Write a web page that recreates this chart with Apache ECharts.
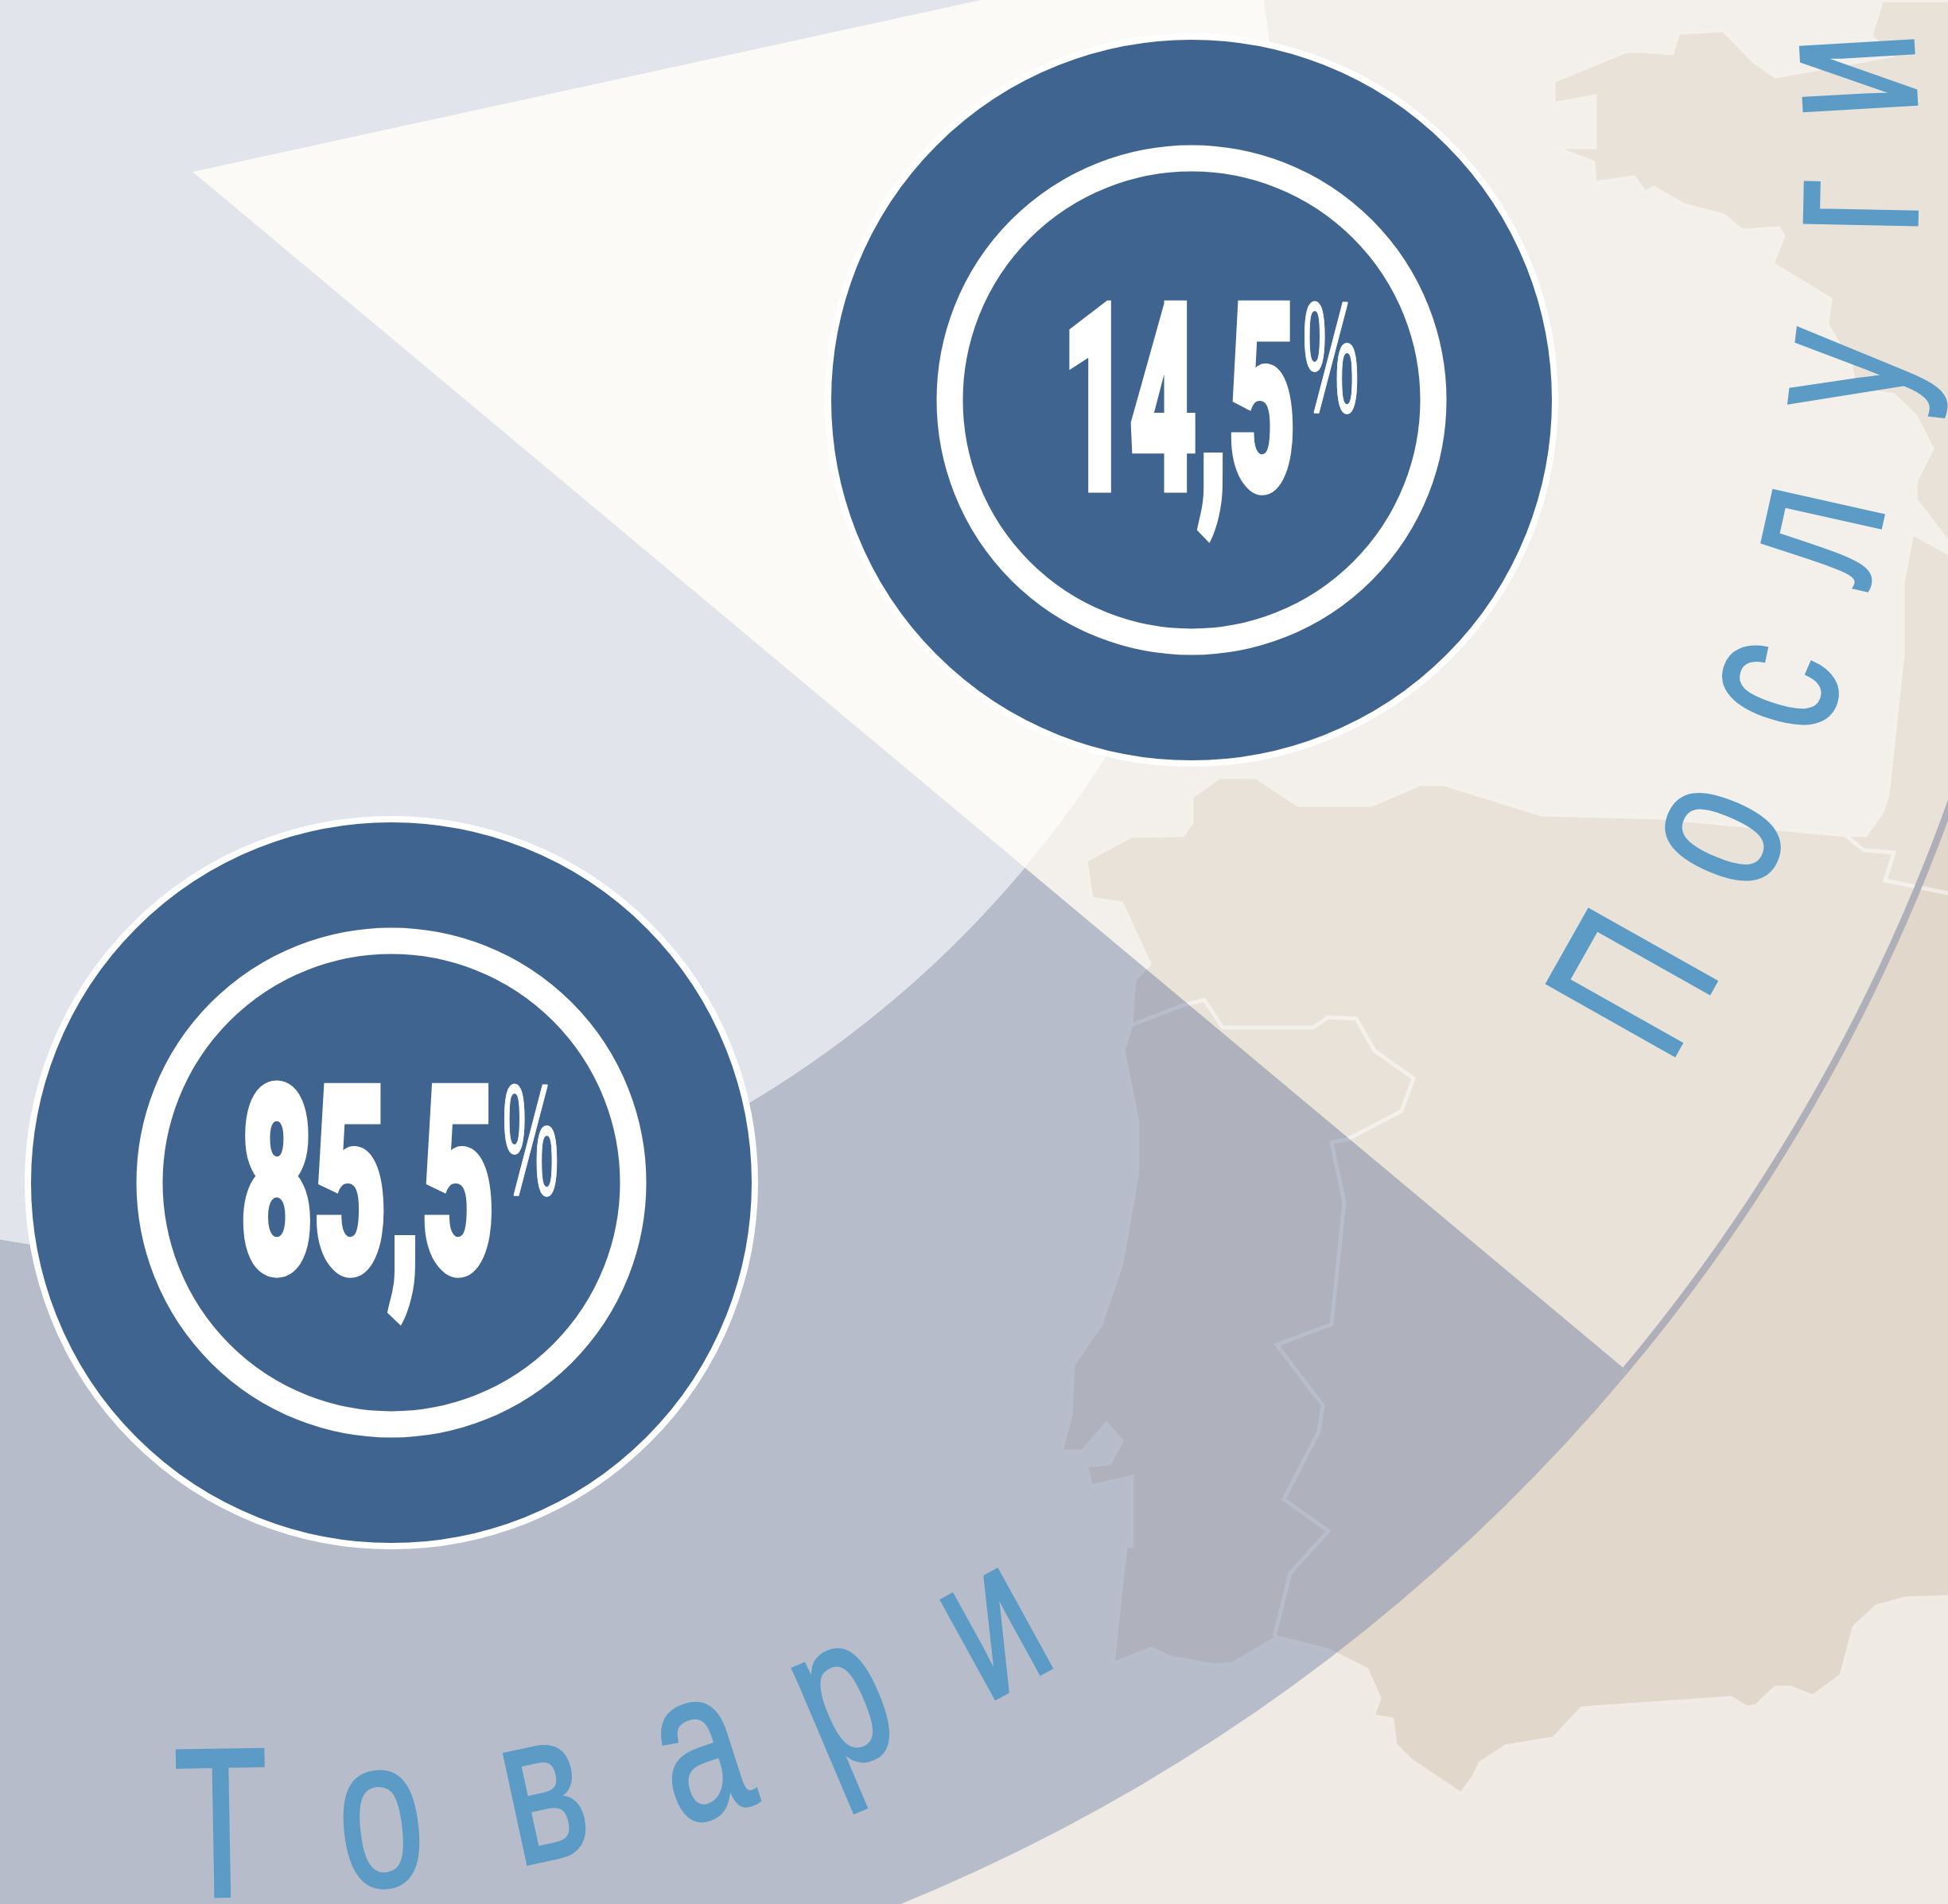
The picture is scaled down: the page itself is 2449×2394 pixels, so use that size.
<!DOCTYPE html>
<html>
<head>
<meta charset="utf-8">
<style>html,body{margin:0;padding:0;background:#efeae3}#c{width:2449px;height:2394px}</style>
<script src="https://cdn.jsdelivr.net/npm/echarts@6/dist/echarts.min.js"></script>
</head>
<body>
<div id="c"></div>
<script>
// ---- data ----
const categories = ['Послуги', 'Товари'];
const shares = [14.5, 85.5];
const categoryLetterAngles = [
  [29.4, 23.5, 18, 12.6, 6.9, 1.2, -3.3],
  [89, 83.5, 77.8, 72.2, 67, 61.2]
];
const unit = '%';

// ---- backdrop map outlines ----
const landNorth = [[2366,0],[2352,45],[2377,70],[2232,96],[2205,77],[2167,38],[2110,41],[2102,67],[2064,64],[2045,64],[1953,102],[1953,131],[2005,121],[2005,185],[1953,185],[2003,204],[2005,230],[2054,223],[2068,242],[2079,236],[2117,258],[2167,271],[2190,290],[2236,287],[2242,297],[2228,332],[2301,376],[2297,408],[2327,459],[2331,488],[2381,497],[2408,523],[2429,564],[2408,606],[2408,628],[2449,682],[2460,682],[2460,0]];
const landSouth = [[2460,702],[2449,695],[2404,670],[2392,733],[2392,823],[2373,1000],[2366,1021],[2345,1050],[2320,1050],[2087,1028],[1938,1024],[1816,986],[1785,986],[1724,1012],[1632,1012],[1579,977],[1533,977],[1498,1002],[1498,1034],[1487,1050],[1422,1051],[1365,1082],[1372,1130],[1410,1136],[1445,1212],[1426,1232],[1422,1289],[1412,1321],[1430,1410],[1430,1474],[1410,1589],[1384,1665],[1349,1716],[1346,1780],[1334,1825],[1361,1825],[1391,1790],[1410,1812],[1395,1840],[1365,1843],[1372,1869],[1423,1857],[1423,1944],[1415,1944],[1399,2092],[1447,2073],[1471,2084],[1527,2094],[1550,2092],[1606,2059],[1670,2075],[1718,2099],[1734,2135],[1726,2158],[1750,2162],[1754,2194],[1773,2213],[1837,2256],[1853,2234],[1861,2217],[1893,2196],[1953,2186],[1989,2148],[2176,2135],[2196,2147],[2208,2145],[2232,2122],[2251,2122],[2279,2133],[2315,2107],[2331,2046],[2359,2020],[2395,2010],[2449,2008],[2460,2008]];
const borderWest = [[1422,1289],[1487,1264],[1514,1257],[1537,1292],[1651,1292],[1670,1279],[1705,1281],[1728,1321],[1777,1356],[1762,1397],[1693,1433],[1674,1436],[1690,1512],[1674,1665],[1605,1691],[1663,1767],[1658,1800],[1614,1885],[1670,1925],[1622,1978],[1602,2058]];
const borderEast = [[2320,1050],[2343,1069],[2381,1072],[2370,1107],[2449,1123]];

// ---- layout ----
const cx = 242, cy = 216;
const innerR = 1364, outerR = 2353;
const badges = [[1498, 503], [492, 1487]];
const labelShift = [-16, -30];
const labelScale = [0.45, 0.49];
const ink = '#5b9bc5', blue = '#3f6490';

const graphics = [];
const bg = { z: -10, silent: true };
[landNorth, landSouth].forEach(p => graphics.push(Object.assign({ type: 'polygon', shape: { points: p },
  style: { fill: '#e1d8cb', stroke: '#f0ebe4', lineWidth: 5 } }, bg)));
[borderWest, borderEast].forEach(p => graphics.push(Object.assign({ type: 'polyline', shape: { points: p },
  style: { fill: null, stroke: '#f0ebe4', lineWidth: 5 } }, bg)));

// badges
categories.forEach((c, i) => {
  const [x, y] = badges[i];
  const top = { z: 50, silent: true };
  graphics.push(Object.assign({ type: 'circle', shape: { cx: x, cy: y, r: 457 }, style: { fill: blue, stroke: '#fff', lineWidth: 8 } }, top));
  graphics.push(Object.assign({ type: 'circle', shape: { cx: x, cy: y, r: 304 }, style: { fill: 'none', stroke: '#fff', lineWidth: 33 } }, top));
  const label = String(shares[i]).replace('.', ',');
  graphics.push({ type: 'text', z: 51, silent: true, x: x + labelShift[i], y: y + 30, scaleX: labelScale[i],
    style: { text: label, x: 0, y: 0, align: 'center', verticalAlign: 'middle', fill: '#fff', stroke: '#fff', lineWidth: 10,
      font: '900 326px Roboto' } });
  graphics.push({ type: 'text', z: 51, silent: true, x: x + 175, y: y - 39, scaleX: 0.4,
    style: { text: unit, x: 0, y: 0, align: 'center', verticalAlign: 'middle', fill: '#fff', stroke: '#fff', lineWidth: 2,
      font: '200px "Liberation Sans"' } });
});

// letters following the ring
const letterR = 2095;
categories.forEach((c, i) => {
  Array.from(c).forEach((ch, k) => {
    const a = categoryLetterAngles[i][k] * Math.PI / 180;
    graphics.push({ type: 'text', z: 40, silent: true,
      x: cx + letterR * Math.cos(a), y: cy + letterR * Math.sin(a),
      rotation: Math.PI / 2 - a, scaleX: 0.72,
      style: { text: ch, x: 0, y: 0, align: 'center', verticalAlign: 'middle', fill: ink, stroke: ink, lineWidth: 4,
        font: '267px "Liberation Sans"' } });
  });
});

const seriesData = (colors) => categories.map((name, i) => ({ name, value: shares[i], itemStyle: { color: colors[i] } }));
const base = { type: 'pie', center: [cx, cy], startAngle: 12.3, clockwise: true, silent: true,
  label: { show: false }, labelLine: { show: false }, animation: false, avoidLabelOverlap: false };

const chart = echarts.init(document.getElementById('c'), null, { renderer: 'canvas' });
chart.setOption({
  backgroundColor: '#efeae3',
  animation: false,
  tooltip: { show: false },
  graphic: { elements: graphics },
  series: [
    Object.assign({}, base, { name: 'outer', radius: [innerR, outerR], z: 2,
      data: seriesData(['rgba(255,255,255,0.25)', 'rgba(99,121,165,0.4)']) }),
    Object.assign({}, base, { name: 'edge', radius: [outerR - 9, outerR], z: 3,
      data: seriesData(['#afafb9', 'rgba(0,0,0,0)']) }),
    Object.assign({}, base, { name: 'inner', radius: [0, innerR], z: 3,
      data: seriesData(['#fbfaf7', '#e1e4ea']) })
  ]
});
</script>
</body>
</html>
